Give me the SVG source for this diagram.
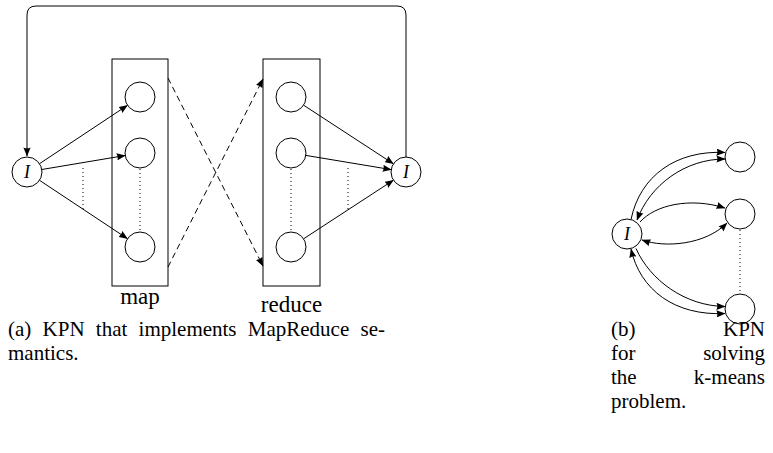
<svg xmlns="http://www.w3.org/2000/svg" width="773" height="453" viewBox="0 0 773 453">
<defs>
<marker id="ah" viewBox="0 0 10 8" refX="9.5" refY="4" markerWidth="9" markerHeight="7.2" markerUnits="userSpaceOnUse" orient="auto-start-reverse">
<path d="M0,0 L10,4 L0,8 Q2,4 0,0 z" fill="#000"/>
</marker>
<style>
.nd{fill:#fff;stroke:#000;stroke-width:1}
.box{fill:none;stroke:#000;stroke-width:1}
.arr{fill:none;stroke:#000;stroke-width:1;marker-end:url(#ah)}
.bi{fill:none;stroke:#000;stroke-width:1;marker-start:url(#ah);marker-end:url(#ah)}
.dash{fill:none;stroke:#000;stroke-width:1;stroke-dasharray:6,4;marker-end:url(#ah)}
.dot{fill:none;stroke:#000;stroke-width:1;stroke-dasharray:1,3}
.lbl{font-family:"Liberation Serif","Times New Roman",serif;font-size:23px;fill:#000}
.cap{font-family:"Liberation Serif","Times New Roman",serif;font-size:21px;fill:#000}
.it{font-family:"Liberation Serif","Times New Roman",serif;font-size:18px;font-style:italic;fill:#000}
</style>
</defs>
<rect width="773" height="453" fill="#fff"/>

<!-- Part (a) -->
<g id="map-box"><rect class="box" x="112" y="59" width="56" height="227"/><text class="lbl" x="140" y="304" text-anchor="middle">map</text></g>
<g id="reduce-box"><rect class="box" x="263" y="59" width="57" height="227"/><text class="lbl" x="291.5" y="312" text-anchor="middle">reduce</text></g>

<g id="connectors-a">
<path class="arr" d="M406,157 V15 Q406,6 397,6 H36 Q27,6 27,15 V156"/>
<line class="arr" x1="39.5" y1="163.7" x2="127.5" y2="105.3"/>
<line class="arr" x1="41.8" y1="169.5" x2="125.2" y2="155.5"/>
<line class="arr" x1="39.5" y1="180.3" x2="127.5" y2="238.7"/>
<line class="arr" x1="303.6" y1="105.2" x2="393.4" y2="163.8"/>
<line class="arr" x1="305.8" y1="155.4" x2="391.2" y2="169.6"/>
<line class="arr" x1="303.6" y1="238.8" x2="393.4" y2="180.2"/>
<line class="dash" x1="168" y1="78" x2="263" y2="266"/>
<line class="dash" x1="168" y1="267" x2="263" y2="79"/>
<line class="dot" x1="83" y1="168" x2="83" y2="210"/>
<line class="dot" x1="140" y1="169" x2="140" y2="232"/>
<line class="dot" x1="291" y1="169" x2="291" y2="232"/>
<line class="dot" x1="348" y1="168" x2="348" y2="210"/>
</g>

<g id="a-in"><circle class="nd" cx="27" cy="172" r="15"/><text class="it" x="27" y="178" text-anchor="middle">I</text></g>
<g id="a-out"><circle class="nd" cx="406" cy="172" r="15"/><text class="it" x="406" y="178" text-anchor="middle">I</text></g>
<g id="map1"><circle class="nd" cx="140" cy="97" r="15"/></g>
<g id="map2"><circle class="nd" cx="140" cy="153" r="15"/></g>
<g id="map3"><circle class="nd" cx="140" cy="247" r="15"/></g>
<g id="red1"><circle class="nd" cx="291" cy="97" r="15"/></g>
<g id="red2"><circle class="nd" cx="291" cy="153" r="15"/></g>
<g id="red3"><circle class="nd" cx="291" cy="247" r="15"/></g>

<!-- Part (b) -->
<g id="connectors-b">
<path class="arr" d="M631,219.5 C640,176 676,150 725,152.5"/>
<path class="bi" d="M637,220 C650,185 685,159 725,159"/>
<path class="arr" d="M640,222 C655,205 690,197 725,208"/>
<path class="bi" d="M642,240 C665,248 705,245 727,223"/>
<path class="arr" d="M636,248.5 C650,280 685,306 725,306.5"/>
<path class="bi" d="M631,249 C640,290 675,316 725,313.5"/>
<line class="dot" x1="740" y1="230" x2="740" y2="293"/>
</g>
<g id="b-in"><circle class="nd" cx="627" cy="234" r="15"/><text class="it" x="627" y="240" text-anchor="middle">I</text></g>
<g id="k1"><circle class="nd" cx="740" cy="157" r="15"/></g>
<g id="k2"><circle class="nd" cx="740" cy="214" r="15"/></g>
<g id="k3"><circle class="nd" cx="740" cy="309" r="15"/></g>

<!-- Captions -->
<g id="caption-a">
<text class="cap" x="8" y="336" word-spacing="6">(a) KPN that implements MapReduce se-</text>
<text class="cap" x="8" y="360">mantics.</text>
</g>
<g id="caption-b">
<text class="cap" x="611" y="336">(b)</text><text class="cap" x="765" y="336" text-anchor="end">KPN</text>
<text class="cap" x="611" y="360">for</text><text class="cap" x="765" y="360" text-anchor="end">solving</text>
<text class="cap" x="611" y="384">the</text><text class="cap" x="765" y="384" text-anchor="end">k-means</text>
<text class="cap" x="611" y="408">problem.</text>
</g>
</svg>
